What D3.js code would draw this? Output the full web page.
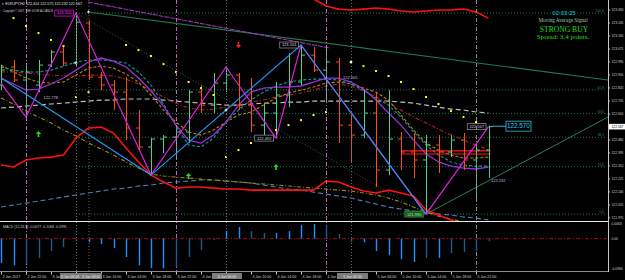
<!DOCTYPE html>
<html><head><meta charset="utf-8">
<script src="https://cdn.jsdelivr.net/npm/d3@7"></script>
<style>html,body{margin:0;padding:0;background:#000;overflow:hidden}svg{display:block}</style>
</head><body>
<svg id="c" width="625" height="280"></svg>
<script>
// ---------- DATA (EURJPY, H2) ----------
const timeLabels=["2 Jan 2017","2 Jan 22:00","3 Jan","3 Jan 06:00","3 Jan 10:00","3 Jan 14:00","3 Jan 18:00","3 Jan 22:00","4 Jan","4 Jan 06:00","4 Jan 10:00","4 Jan 14:00","4 Jan 18:00","4 Jan","5 Jan 02:00","5 Jan 06:00","5 Jan 10:00","5 Jan 14:00","5 Jan 18:00","5 Jan 22:00"];
const opens=[122.839,122.957,122.872,122.839,122.970,123.055,122.983,123.245,122.891,122.839,122.793,122.558,122.434,122.486,122.499,122.532,122.793,122.708,122.852,122.904,122.708,122.577,122.656,122.774,122.859,123.035,122.937,122.990,122.577,122.512,122.656,122.283,122.486,122.401,122.349,122.447,122.401,122.479,122.349,122.414];
const highs=[122.970,123.003,122.983,123.003,123.068,123.088,123.310,123.264,122.924,122.872,122.891,122.676,122.492,122.512,122.577,122.806,122.839,122.918,122.957,122.918,122.885,122.721,122.859,123.048,123.101,123.088,123.081,123.016,122.656,122.806,122.793,122.806,122.532,122.525,122.512,122.512,122.512,122.525,122.460,122.575];
const lows=[122.806,122.859,122.630,122.793,122.957,122.963,122.963,122.872,122.806,122.676,122.479,122.414,122.250,122.394,122.349,122.460,122.656,122.656,122.793,122.676,122.532,122.499,122.492,122.695,122.839,122.924,122.741,122.460,122.329,122.492,122.172,122.250,122.283,122.231,121.995,122.264,122.368,122.283,122.087,122.232];
const closes=[122.937,122.872,122.924,122.970,123.055,122.983,123.251,122.891,122.839,122.793,122.558,122.434,122.486,122.499,122.532,122.793,122.708,122.852,122.904,122.708,122.577,122.656,122.774,122.859,123.035,122.937,122.990,122.577,122.512,122.656,122.283,122.486,122.401,122.349,122.447,122.401,122.479,122.349,122.414,122.567];

const maPurple=[122.885,122.846,122.806,122.813,122.846,122.885,122.937,122.990,123.016,122.996,122.957,122.885,122.800,122.702,122.577,122.479,122.460,122.512,122.597,122.708,122.793,122.819,122.826,122.826,122.833,122.859,122.885,122.885,122.859,122.813,122.741,122.656,122.577,122.479,122.388,122.336,122.309,122.296,122.290,122.303];
const maTeal=[122.957,122.937,122.924,122.924,122.937,122.963,122.990,123.003,123.003,122.996,122.983,122.924,122.839,122.715,122.571,122.447,122.434,122.492,122.597,122.676,122.741,122.793,122.833,122.859,122.872,122.878,122.878,122.872,122.846,122.806,122.754,122.708,122.630,122.532,122.447,122.381,122.336,122.316,122.309,122.309];
const maGold=[122.970,122.924,122.885,122.859,122.852,122.859,122.904,122.950,122.963,122.950,122.911,122.859,122.774,122.676,122.597,122.532,122.512,122.545,122.597,122.643,122.663,122.708,122.754,122.787,122.806,122.826,122.852,122.859,122.846,122.819,122.793,122.741,122.643,122.545,122.460,122.414,122.381,122.362,122.362,122.368];
const maDarkRed=[122.924,122.924,122.918,122.911,122.904,122.898,122.898,122.904,122.904,122.898,122.878,122.846,122.806,122.761,122.721,122.689,122.676,122.682,122.695,122.708,122.728,122.741,122.761,122.774,122.787,122.806,122.833,122.846,122.833,122.800,122.761,122.721,122.676,122.630,122.591,122.551,122.512,122.479,122.447,122.414];
const maGrey=[122.689,122.695,122.702,122.708,122.715,122.721,122.728,122.734,122.741,122.741,122.748,122.748,122.748,122.741,122.734,122.728,122.721,122.715,122.708,122.708,122.715,122.721,122.721,122.728,122.728,122.734,122.734,122.734,122.734,122.734,122.734,122.734,122.728,122.721,122.708,122.695,122.682,122.676,122.663,122.656];
const lowerSteel=[122.041,122.054,122.067,122.080,122.094,122.107,122.120,122.133,122.146,122.159,122.165,122.179,122.185,122.198,122.205,122.211,122.218,122.218,122.211,122.205,122.198,122.185,122.172,122.159,122.152,122.139,122.126,122.113,122.100,122.080,122.061,122.041,122.028,122.015,122.002,121.995,121.989,121.976,121.969,121.956];
const lowerOlive=[122.754,122.715,122.669,122.630,122.591,122.545,122.506,122.460,122.421,122.381,122.336,122.296,122.257,122.244,122.237,122.231,122.224,122.218,122.211,122.205,122.198,122.192,122.185,122.179,122.172,122.165,122.159,122.152,122.146,122.133,122.120,122.100,122.074,122.041,122.009,121.982,121.963,121.943,121.924,121.904];
const bandRedLow=[122.316,122.303,122.349,122.362,122.368,122.381,122.492,122.558,122.564,122.525,122.427,122.336,122.250,122.205,122.165,122.172,122.172,122.165,122.159,122.159,122.152,122.152,122.152,122.152,122.152,122.152,122.211,122.205,122.172,122.146,122.133,122.152,122.133,122.113,122.022,121.989,121.956,121.930,121.904,121.878];
const bandRedHigh=[null,null,null,null,null,null,null,null,null,null,null,null,null,null,null,null,null,null,null,null,null,null,null,123.540,123.460,123.402,123.356,123.336,123.330,123.336,123.343,123.336,123.323,123.317,123.323,123.330,123.330,123.336,123.317,123.277];
const sarDots=[null,123.277,123.225,123.179,123.134,123.094,122.761,122.793,null,null,123.101,123.068,123.029,122.976,122.924,122.859,122.819,122.774,122.368,122.414,122.460,122.499,122.545,122.577,122.610,122.643,122.663,null,122.990,122.963,122.931,122.898,122.859,122.813,122.761,122.715,122.669,122.630,122.597,null];
const macdHist=[-0.077,-0.084,-0.080,-0.061,-0.039,-0.027,-0.004,-0.011,-0.017,-0.030,-0.058,-0.084,-0.093,-0.094,-0.090,-0.058,-0.036,-0.004,0.024,0.037,0.024,0.018,0.018,0.024,0.043,0.046,0.043,0.015,-0.011,-0.012,-0.039,-0.052,-0.065,-0.074,-0.061,-0.061,-0.046,-0.042,-0.039,-0.008];

const zigMagenta=[[0,122.852],[2,122.630],[6,123.310],[12,122.250],[18,122.957],[22,122.492],[24,123.101],[34,121.995],[39,122.567]];
const zigBlue=[[0,122.885],[12,122.250],[24,123.101],[34,121.995]];
const trendGreen=[[7,123.317],[48.56,122.872]];
const trendMagenta=[[6.96,123.382],[26.32,123.081]];
const fanDotted=[[6,123.310],[34,121.995]];
const riseLine=[[34,121.995],[48.56,122.630]];
const redLevels=[122.408,122.388];
const fibLevels=[0,23.6,38.2,50,61.8,100];
const fibLabels=["0.0","23.6","38.2","50.0","61.8","100.0"];
const priceTicks=["123.330","123.245","123.160","123.075","122.990","122.905","122.820","122.735","122.650","122.565","122.480","122.395","122.310","122.225","122.140","122.055","121.970"];
const macdTicks=[0.0463,0,-0.0960];
const macdTickLabels=["0.0463","0.00","-0.0960"];
const daySeparators=[2,14,26,38];
const markedBars=[6,7,18,28];
const markedLabels=["3 Jan 06:00","3 Jan 08:00","4 Jan 06:00","5 Jan 02:00"];
const upArrows=[[3,122.519],[15,122.244],[22,122.303]];
const downArrows=[[19,123.101]];
const fractals=[[6,122.983],[7,123.317],[18,122.676],[28,122.990]];
const boxLabels=[
  {i:6,p:123.310,t:"123.310",kind:"mag"},
  {i:24,p:123.101,t:"123.101",kind:"grey"},
  {i:22,p:122.492,t:"122.492",kind:"grey"},
  {i:34,p:121.995,t:"121.995",kind:"green"},
  {i:39,p:122.567,t:"122.567",kind:"grey"}];
const freeLabels=[[3.4,122.748,"122.778"],[27.36,122.878,"122.905"],[39.2,122.205,"122.232"]];
const currentPrice=122.570;
const symbolName="EURJPY,H2";
const macdText="MACD (12,26,9) -0.0077 -0.1068 -0.0991";
const panelTexts=["02:03:25","Moving Average Signal","STRONG BUY","Spread: 3.4 points."];

// ---------- SCALES ----------
const svg=d3.select("#c");
const PR=608, MB=221, SB=271;
const x=d3.scaleLinear().domain([0,39]).range([1,488.5]);
const y=d3.scaleLinear().domain([123.330,121.963]).range([10,219]);
const ym=d3.scaleLinear().domain([0.0463,-0.0960]).range([224,269]);
const FS="Liberation Sans, Arial, sans-serif";

svg.append("rect").attr("width",625).attr("height",280).attr("fill","#000");
const defs=svg.append("defs");
defs.append("clipPath").attr("id","cm").append("rect").attr("x",0).attr("y",0).attr("width",PR).attr("height",MB);
defs.append("clipPath").attr("id","cs").append("rect").attr("x",0).attr("y",MB+1).attr("width",PR).attr("height",SB-MB-1);

const g=svg.append("g").attr("clip-path","url(#cm)");
const pt=d3.line().x(d=>x(d[0])).y(d=>y(d[1]));
const series=d3.line().defined(d=>d[1]!=null).x(d=>x(d[0])).y(d=>y(d[1]));
const idx=d3.range(opens.length);

// vertical lines (full height)
const vg=svg.append("g");
daySeparators.forEach((b,k)=>{
  vg.append("line").attr("x1",x(b)+0.5).attr("x2",x(b)+0.5).attr("y1",0).attr("y2",SB)
    .attr("stroke",k<3?"#b070b0":"#8a8a8a").attr("stroke-width",1).attr("stroke-dasharray","4,2,1,2");
});
markedBars.forEach(b=>{
  vg.append("line").attr("x1",x(b)+0.5).attr("x2",x(b)+0.5).attr("y1",0).attr("y2",SB)
    .attr("stroke","#6a6a6a").attr("stroke-width",1).attr("stroke-dasharray","1,2");
});

// fibonacci
const fH=highs[6], fL=lows[34];
fibLevels.forEach((lv,k)=>{
  const py=y(fL+(fH-fL)*lv/100);
  g.append("line").attr("x1",x(6)).attr("x2",605).attr("y1",py).attr("y2",py)
   .attr("stroke","#1f7a45").attr("stroke-width",1).attr("stroke-dasharray","1,2");
  g.append("text").attr("x",604).attr("y",py-1).attr("text-anchor","end").attr("fill","#2e8b57")
   .attr("font-family",FS).attr("font-size",3.4).text(fibLabels[k]);
});

// trendlines
g.append("path").datum(trendGreen).attr("d",pt).attr("stroke","#1e7a4a").attr("stroke-width",1.1).attr("fill","none");
g.append("path").datum(trendMagenta).attr("d",pt).attr("stroke","#a030b0").attr("stroke-width",1.1).attr("fill","none").attr("stroke-dasharray","5,1");
g.append("path").datum(fanDotted).attr("d",pt).attr("stroke","#1f6b3c").attr("stroke-width",1).attr("fill","none").attr("stroke-dasharray","1,2");
g.append("path").datum(riseLine).attr("d",pt).attr("stroke","#2e7d4f").attr("stroke-width",1).attr("fill","none");

// moving averages / bands
function drawSeries(arr,color,w,dash){
  const p=g.append("path").datum(arr.map((v,i)=>[i,v])).attr("d",series)
    .attr("stroke",color).attr("stroke-width",w).attr("fill","none");
  if(dash) p.attr("stroke-dasharray",dash);
}
drawSeries(maGrey,"#bdbdbd",1.2,"5,3");
drawSeries(maDarkRed,"#b22222",1.1,"4,2,1,2");
drawSeries(maGold,"#b8860b",1.1,"3,2");
drawSeries(maTeal,"#109c9c",1.1,"3,2");
drawSeries(maPurple,"#9b30d9",1.3,null);
drawSeries(lowerSteel,"#4a7fb0",1.1,"5,3");
drawSeries(lowerOlive,"#9a8b1a",1.1,"4,2,1,2");
drawSeries(bandRedLow,"#ff1010",1.6,null);
drawSeries(bandRedHigh,"#ff1010",1.6,null);

// red level lines
redLevels.forEach(p=>{
  g.append("line").attr("x1",x(32)).attr("x2",x(39)+2).attr("y1",y(p)).attr("y2",y(p))
   .attr("stroke","#ff1a1a").attr("stroke-width",1.2);
});

// OHLC bars
const bull="#4fd08c", bear="#ff4d0a";
idx.forEach(i=>{
  const c=closes[i]>=opens[i]?bull:bear, cx=Math.round(x(i))+0.5;
  g.append("line").attr("x1",cx).attr("x2",cx).attr("y1",y(highs[i])).attr("y2",y(lows[i])).attr("stroke",c).attr("stroke-width",1);
  g.append("line").attr("x1",cx-3.5).attr("x2",cx).attr("y1",y(opens[i])).attr("y2",y(opens[i])).attr("stroke",c).attr("stroke-width",1);
  g.append("line").attr("x1",cx).attr("x2",cx+3.5).attr("y1",y(closes[i])).attr("y2",y(closes[i])).attr("stroke",c).attr("stroke-width",1);
});

// zigzags
g.append("path").datum(zigMagenta).attr("d",pt).attr("stroke","#e020e0").attr("stroke-width",1.2).attr("fill","none");
g.append("path").datum(zigBlue).attr("d",pt).attr("stroke","#2196f3").attr("stroke-width",1.2).attr("fill","none");

// parabolic SAR
sarDots.forEach((v,i)=>{ if(v!=null) g.append("rect").attr("x",x(i)-1).attr("y",y(v)-1).attr("width",2).attr("height",2).attr("fill","#ffff00"); });

// fractal crosses
fractals.forEach(([i,p])=>{
  const cx=x(i), cy=y(p);
  g.append("path").attr("d",`M${cx-1.5},${cy}H${cx+1.5}M${cx},${cy-1.5}V${cy+1.5}`).attr("stroke","#ffffff").attr("stroke-width",0.9);
});

// arrows
upArrows.forEach(([i,p])=>{
  const cx=x(i), cy=y(p);
  g.append("path").attr("d",`M${cx},${cy-3}L${cx+2.6},${cy}L${cx+0.8},${cy}L${cx+0.8},${cy+3}L${cx-0.8},${cy+3}L${cx-0.8},${cy}L${cx-2.6},${cy}Z`).attr("fill","#22e02a");
});
downArrows.forEach(([i,p])=>{
  const cx=x(i), cy=y(p);
  g.append("path").attr("d",`M${cx},${cy+3}L${cx+2.6},${cy}L${cx+0.8},${cy}L${cx+0.8},${cy-3}L${cx-0.8},${cy-3}L${cx-0.8},${cy}L${cx-2.6},${cy}Z`).attr("fill","#ff2020");
});

// labels
const styles={mag:{s:"#ff00ff",f:"#000",t:"#ff40ff"},grey:{s:"#9a9a9a",f:"#000",t:"#d8d0f0"},green:{s:"#2e8b3e",f:"#1d5a26",t:"#a8f0a8"}};
boxLabels.forEach(l=>{
  const st=styles[l.kind], w=l.t.length*2.25+3, hgt=6, rx=x(l.i)-2.5-w, cy=y(l.p);
  g.append("rect").attr("x",rx).attr("y",cy-hgt/2).attr("width",w).attr("height",hgt).attr("fill",st.f).attr("stroke",st.s).attr("stroke-width",0.7);
  g.append("text").attr("x",rx+w/2).attr("y",cy+1.4).attr("text-anchor","middle").attr("fill",st.t).attr("font-family",FS).attr("font-size",4).text(l.t);
});
freeLabels.forEach(([i,p,t])=>{
  g.append("text").attr("x",x(i)).attr("y",y(p)).attr("fill","#c8b8e0").attr("font-family",FS).attr("font-size",4).text(t);
});

// current price marker
const cpY=y(currentPrice);
g.append("line").attr("x1",x(39)+4).attr("x2",506).attr("y1",cpY).attr("y2",cpY).attr("stroke","#22b8d8").attr("stroke-width",1);
g.append("rect").attr("x",506).attr("y",cpY-5).attr("width",25).attr("height",10).attr("fill","#000").attr("stroke","#1aa0a8").attr("stroke-width",1);
g.append("text").attr("x",518.5).attr("y",cpY+2.2).attr("text-anchor","middle").attr("fill","#33c8f0").attr("font-family",FS).attr("font-size",6.3).text(currentPrice.toFixed(3));

// header text
const last=opens.length-1;
svg.append("text").attr("x",2).attr("y",5).attr("fill","#e0e0e0").attr("font-family",FS).attr("font-size",3.4)
  .attr("textLength",80).attr("lengthAdjust","spacingAndGlyphs")
  .text("▾ "+symbolName+" "+[opens[last],highs[last],lows[last],closes[last]].map(v=>v.toFixed(3)).join(" "));
svg.append("text").attr("x",3).attr("y",12).attr("fill","#d0d0d0").attr("font-family",FS).attr("font-size",2.6)
  .attr("textLength",50).attr("lengthAdjust","spacingAndGlyphs")
  .text("Copyright © 2007, THE DOVE ALLIANCE");

// right-top info panel
svg.append("text").attr("x",564).attr("y",15).attr("text-anchor","middle").attr("fill","#00ced1").attr("font-family",FS).attr("font-size",6).text(panelTexts[0]);
svg.append("text").attr("x",563).attr("y",22).attr("text-anchor","middle").attr("fill","#a8c8a0").attr("font-family","Liberation Serif, serif").attr("font-size",5.2).text(panelTexts[1]);
svg.append("text").attr("x",564).attr("y",31.5).attr("text-anchor","middle").attr("fill","#22dd22").attr("font-family","Liberation Serif, serif").attr("font-size",7.6).text(panelTexts[2]);
svg.append("text").attr("x",563).attr("y",38.5).attr("text-anchor","middle").attr("fill","#22dd22").attr("font-family","Liberation Serif, serif").attr("font-size",7).text(panelTexts[3]);

// MACD subwindow
const sg=svg.append("g").attr("clip-path","url(#cs)");
sg.append("line").attr("x1",0).attr("x2",PR).attr("y1",ym(0)).attr("y2",ym(0)).attr("stroke","#a01010").attr("stroke-width",1).attr("stroke-dasharray","4,2,1,2");
macdHist.forEach((v,i)=>{
  const prev=i>0?macdHist[i-1]:v;
  const col=Math.abs(v)>=Math.abs(prev)?"#1e90ff":"#1f5a8e";
  sg.append("rect").attr("x",Math.round(x(i))-0.2).attr("y",Math.min(ym(v),ym(0))).attr("width",1.4).attr("height",Math.abs(ym(v)-ym(0))).attr("fill",col);
});
svg.append("text").attr("x",3).attr("y",227.5).attr("fill","#c8c8c8").attr("font-family",FS).attr("font-size",3.5).text(macdText);

// frame lines
svg.append("line").attr("x1",0).attr("x2",PR).attr("y1",MB+0.5).attr("y2",MB+0.5).attr("stroke","#e8e8e8").attr("stroke-width",1);
svg.append("line").attr("x1",0).attr("x2",PR).attr("y1",SB+0.5).attr("y2",SB+0.5).attr("stroke","#8c8c8c").attr("stroke-width",1.2);
svg.append("line").attr("x1",PR+0.5).attr("x2",PR+0.5).attr("y1",0).attr("y2",SB+1).attr("stroke","#c8c8c8").attr("stroke-width",1);

// price axis
priceTicks.forEach(t=>{
  const py=y(+t);
  svg.append("line").attr("x1",PR).attr("x2",PR+2).attr("y1",py).attr("y2",py).attr("stroke","#c8c8c8");
  if(Math.abs(+t-closes[last])>0.02)
    svg.append("text").attr("x",PR+3.5).attr("y",py+1.2).attr("fill","#d0d0d0").attr("font-family",FS).attr("font-size",3.3).text(t);
});
svg.append("rect").attr("x",PR+1).attr("y",y(closes[last])-2.8).attr("width",16).attr("height",5.6).attr("fill","#ffffff");
svg.append("text").attr("x",PR+3.5).attr("y",y(closes[last])+1.2).attr("fill","#000").attr("font-family",FS).attr("font-size",3.3).text(closes[last].toFixed(3));

// macd axis
macdTicks.forEach((v,k)=>{
  svg.append("text").attr("x",PR+3.5).attr("y",ym(v)+1.2).attr("fill","#d0d0d0").attr("font-family",FS).attr("font-size",3.3).text(macdTickLabels[k]);
});

// time axis
timeLabels.forEach((t,k)=>{
  const b=k*2, tx=x(b);
  svg.append("line").attr("x1",tx+0.5).attr("x2",tx+0.5).attr("y1",SB+1).attr("y2",SB+3.5).attr("stroke","#c8c8c8");
  if(markedBars.indexOf(b)<0)
    svg.append("text").attr("x",tx+1.5).attr("y",277.5).attr("fill","#d0d0d0").attr("font-family",FS).attr("font-size",3.6).text(t);
});
// grey boxes for the marked vertical lines
const boxSpans=[[60,102,[0,1]],[212,242,[2]],[337,368,[3]]];
boxSpans.forEach(([a,b,ids])=>{
  svg.append("rect").attr("x",a).attr("y",273).attr("width",b-a).attr("height",6).attr("fill","#7c7c7c");
  ids.forEach((id,j)=>{
    const tx= ids.length>1 ? a+1+j*21 : (a+b)/2;
    svg.append("text").attr("x",tx).attr("y",277.5).attr("text-anchor",ids.length>1?"start":"middle")
      .attr("fill","#e8e8e8").attr("font-family",FS).attr("font-size",3.5).text(markedLabels[id]);
  });
});
</script>
</body></html>
